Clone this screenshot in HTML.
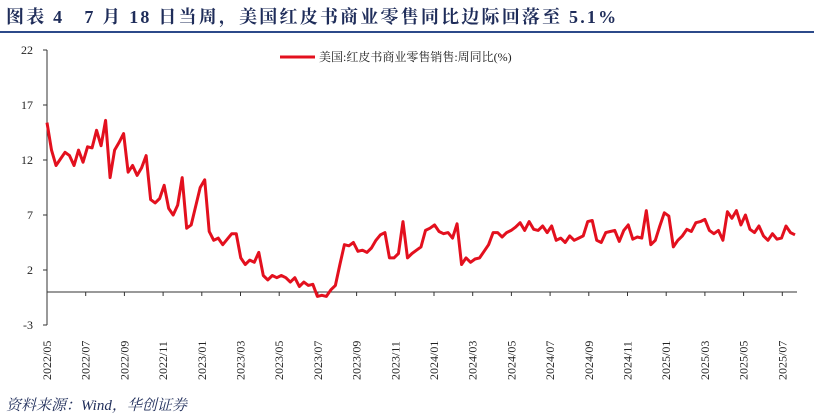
<!DOCTYPE html>
<html><head><meta charset="utf-8"><style>
body{margin:0;background:#fff;width:814px;height:417px;overflow:hidden;font-family:"Liberation Serif","Noto Serif CJK SC",serif}
#title{position:absolute;left:6px;top:3px;font-size:18px;font-weight:bold;color:#1f2d5a;letter-spacing:2.2px;white-space:nowrap}
#rule{position:absolute;left:0;top:31px;width:814px;height:2px;background:#2c4a8a}
#src{position:absolute;left:6px;top:394px;font-size:15px;font-style:italic;color:#1f2d5a}
svg{position:absolute;left:0;top:0}
</style></head><body>
<div id="title">图表 4&nbsp;&nbsp;&nbsp;7 月 18 日当周，美国红皮书商业零售同比边际回落至 5.1%</div>
<div id="rule"></div>
<svg id="chart" width="814" height="417"></svg>
<div id="src">资料来源：Wind，华创证券</div>
<script>
const values=[15.4,12.9,11.5,12.1,12.7,12.4,11.5,12.9,11.8,13.2,13.1,14.7,13.3,15.6,10.4,12.9,13.6,14.4,10.9,11.5,10.6,11.3,12.4,8.4,8.1,8.5,9.7,7.6,7.0,7.9,10.4,5.8,6.1,7.8,9.5,10.2,5.5,4.7,4.9,4.3,4.8,5.3,5.3,3.1,2.5,2.9,2.7,3.6,1.5,1.1,1.5,1.3,1.5,1.3,0.9,
1.3,0.5,0.9,0.6,0.7,-0.4,-0.3,-0.4,0.2,0.6,2.5,4.3,4.2,4.5,3.7,3.8,3.6,4.0,4.7,5.2,5.4,3.1,3.1,3.5,6.4,3.1,3.5,3.8,4.1,5.6,5.8,6.1,5.5,5.3,5.4,4.9,6.2,2.5,3.1,2.7,3.0,3.1,3.7,4.3,5.4,5.4,5.0,5.4,5.6,5.9,6.3,5.6,6.4,5.7,5.6,6.0,5.4,6.0,
4.7,4.9,4.5,5.1,4.7,4.9,5.1,6.4,6.5,4.7,4.5,5.4,5.5,5.6,4.6,5.6,6.1,4.8,5.0,4.9,7.4,4.3,4.7,6.0,7.2,6.9,4.1,4.7,5.1,5.7,5.5,6.3,6.4,6.6,5.6,5.3,5.6,4.7,7.3,6.7,7.4,6.1,7.0,5.7,5.4,6.0,5.1,4.7,5.3,4.8,4.9,6.0,5.4,5.2];
const yTicks=[22,17,12,7,2,-3];
const xLabels=["2022/05","2022/07","2022/09","2022/11","2023/01","2023/03","2023/05","2023/07","2023/09","2023/11","2024/01","2024/03","2024/05","2024/07","2024/09","2024/11","2025/01","2025/03","2025/05","2025/07"];
const seriesName="美国:红皮书商业零售销售:周同比(%)";
const NS="http://www.w3.org/2000/svg",svg=document.getElementById('chart');
const X0=47,X1=795,Y0=50,Y1=325;
const y=v=>Y1-(v-(-3))/(22-(-3))*(Y1-Y0);
const x=i=>X0+i*(X1-X0)/(values.length-1);
const lx=k=>X0+k*38.7;
function mk(t,a){const e=document.createElementNS(NS,t);for(const k in a)e.setAttribute(k,a[k]);svg.appendChild(e);return e;}
const yAxis=mk('line',{x1:X0,y1:Y0,x2:X0,y2:Y1,stroke:'#333','stroke-width':1});


yTicks.forEach(t=>{
 const l=mk('line',{x1:X0-4,y1:y(t),x2:X0,y2:y(t),stroke:'#333'});
 
 
 const tx=mk('text',{x:X0-14,y:y(t)+4,'text-anchor':'end','font-size':12,fill:'#222','font-family':'Liberation Serif,serif'});
 tx.textContent=t;
 
 
});
const xAxis=mk('line',{x1:X0,y1:y(0),x2:X1+2,y2:y(0),stroke:'#333','stroke-width':1});


xLabels.forEach((s,k)=>{
 const l=mk('line',{x1:lx(k),y1:y(0),x2:lx(k),y2:y(0)+4,stroke:'#333'});
 
 
 const tx=mk('text',{x:0,y:0,transform:`translate(${lx(k)+4},380) rotate(-90)`,'font-size':12,fill:'#222','font-family':'Liberation Serif,serif'});
 tx.textContent=s;
 
 
});
const p=mk('polyline',{points:values.map((v,i)=>x(i)+','+y(v)).join(' '),fill:'none',stroke:'#e3101e','stroke-width':3,'stroke-linejoin':'round'});


const lg=mk('line',{x1:280,y1:57,x2:315,y2:57,stroke:'#e3101e','stroke-width':3});


const lt=mk('text',{x:319,y:61,'font-size':12,fill:'#222','font-family':'Liberation Serif,Noto Serif CJK SC,serif'});
lt.textContent=seriesName;


</script>
</body></html>
